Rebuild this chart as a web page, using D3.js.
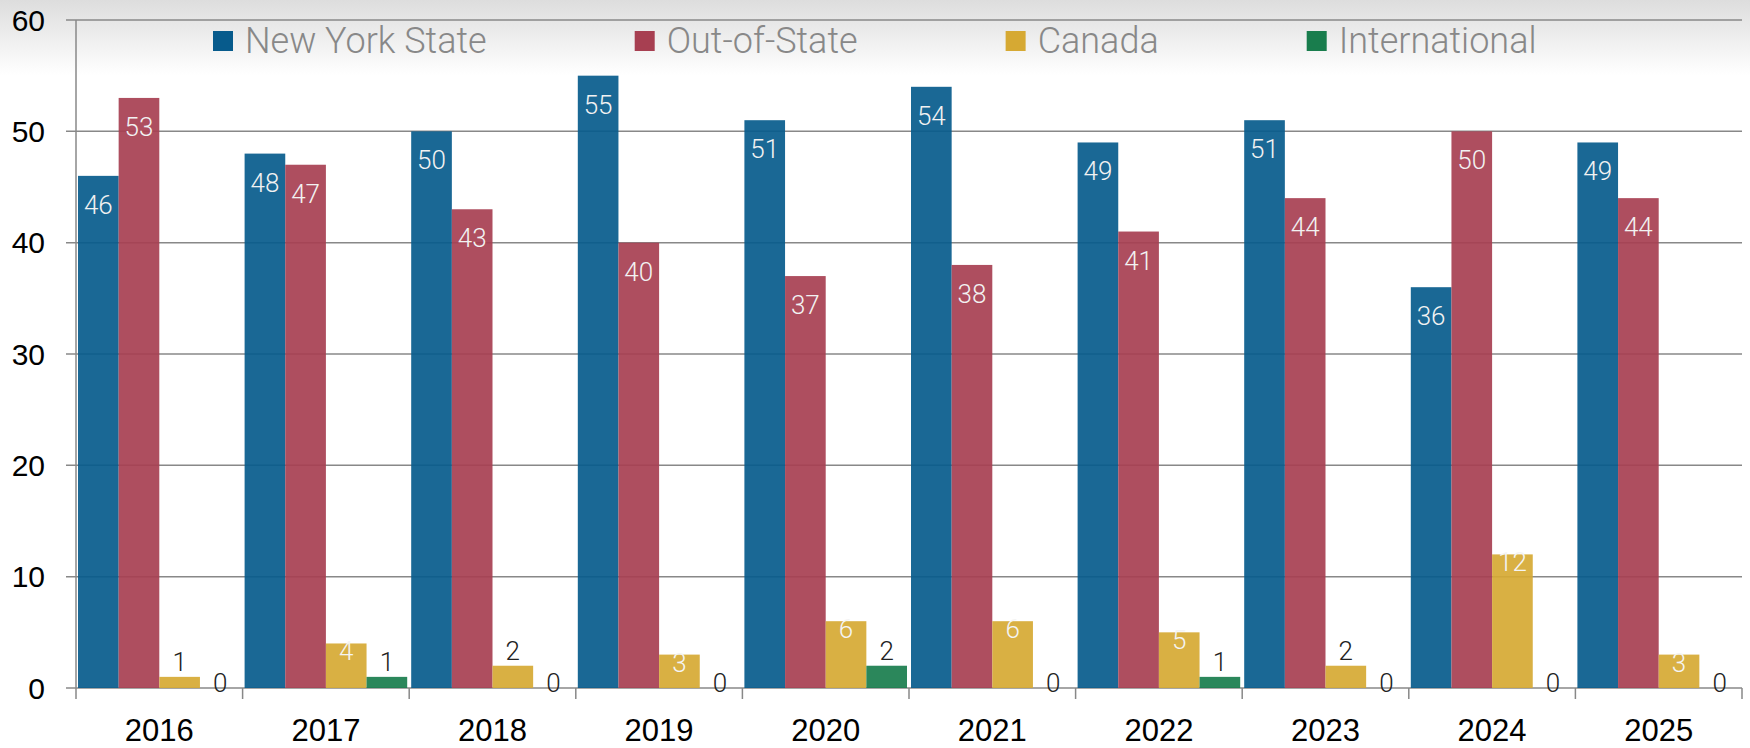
<!DOCTYPE html>
<html lang="en">
    <head>
        <meta charset="utf-8">
        <title>Students by origin, 2016-2025</title>
        <script src="https://d3js.org/d3.v7.min.js"></script>
        <style type="text/css">
          body { margin: 0; background: #fff; }
          svg { width: 1750px; height: 748px; display: block; }
          .axis-label { font-family: "Liberation Sans", Arial, sans-serif; fill: #000; }
          .legend { font-family: Roboto, "Liberation Sans", sans-serif; font-weight: 300; font-size: 36px; fill: #888; }
          .value { font-family: Roboto, "Liberation Sans", sans-serif; font-weight: 300; font-size: 26px; }
        </style>
    </head>
    <body>
        <svg></svg>

        <script type="text/javascript">

        // data
        const years = ["2016", "2017", "2018", "2019", "2020", "2021", "2022", "2023", "2024", "2025"];
        const seriesNames = ["New York State", "Out-of-State", "Canada", "International"];
        const newYork = [46, 48, 50, 55, 51, 54, 49, 51, 36, 49];
        const outOfState = [53, 47, 43, 40, 37, 38, 41, 44, 50, 44];
        const canada = [1, 4, 2, 3, 6, 6, 5, 2, 12, 3];
        const international = [0, 1, 0, 0, 2, 0, 1, 0, 0, 0];
        const yTicks = [0, 10, 20, 30, 40, 50, 60];

        const colors = ["#075b8c", "#a73f51", "#d6a933", "#197d4d"];
        const values = [newYork, outOfState, canada, international];

        const svg = d3.select("svg");

        // soft grey band at the top
        const grad = svg.append("defs").append("linearGradient")
            .attr("id", "topfade").attr("x1", 0).attr("y1", 0).attr("x2", 0).attr("y2", 1);
        grad.append("stop").attr("offset", "0%").attr("stop-color", "#dddddd");
        grad.append("stop").attr("offset", "100%").attr("stop-color", "#ffffff");
        svg.append("rect").attr("x", 0).attr("y", 0).attr("width", 1750).attr("height", 75)
            .attr("fill", "url(#topfade)");

        const plotLeft = 76, plotRight = 1742, plotTop = 20, plotBottom = 688;

        const x0 = d3.scaleBand().domain(years).range([plotLeft, plotRight]);
        const x1 = d3.scaleBand().domain(seriesNames).range([2, x0.bandwidth() - 2]);
        const y = d3.scaleLinear().domain([0, 60]).range([plotBottom, plotTop]);

        // gridlines + y labels
        const grid = svg.append("g");
        grid.selectAll("line")
            .data(yTicks)
            .enter()
            .append("line")
            .attr("x1", plotLeft - 10)
            .attr("x2", plotRight)
            .attr("y1", d => y(d))
            .attr("y2", d => y(d))
            .attr("stroke", "#888")
            .attr("stroke-width", 1.5);

        grid.selectAll("text")
            .data(yTicks)
            .enter()
            .append("text")
            .attr("class", "axis-label")
            .attr("x", 45)
            .attr("y", d => y(d))
            .attr("dy", "0.36em")
            .attr("text-anchor", "end")
            .attr("font-size", "30px")
            .text(d => d);

        // y axis line
        svg.append("line")
            .attr("x1", plotLeft).attr("x2", plotLeft)
            .attr("y1", plotTop).attr("y2", plotBottom)
            .attr("stroke", "#888").attr("stroke-width", 1.5);

        // x axis ticks at band edges
        const edges = years.map(d => x0(d)).concat([plotRight]);
        svg.append("g").selectAll("line")
            .data(edges)
            .enter()
            .append("line")
            .attr("x1", d => d).attr("x2", d => d)
            .attr("y1", plotBottom).attr("y2", plotBottom + 11)
            .attr("stroke", "#888").attr("stroke-width", 1.5);

        svg.append("g").selectAll("text")
            .data(years)
            .enter()
            .append("text")
            .attr("class", "axis-label")
            .attr("x", d => x0(d) + x0.bandwidth() / 2)
            .attr("y", 741)
            .attr("text-anchor", "middle")
            .attr("font-size", "31px")
            .text(d => d);

        // bars
        const rows = years.map((yr, i) => ({
            year: yr,
            items: seriesNames.map((s, j) => ({ series: s, idx: j, value: values[j][i] }))
        }));

        const groups = svg.append("g").selectAll("g")
            .data(rows)
            .enter()
            .append("g")
            .attr("transform", d => "translate(" + x0(d.year) + ",0)");

        groups.selectAll("rect")
            .data(d => d.items)
            .enter()
            .append("rect")
            .attr("x", d => x1(d.series))
            .attr("width", x1.bandwidth())
            .attr("y", d => y(d.value))
            .attr("height", d => plotBottom - y(d.value))
            .attr("fill", d => colors[d.idx])
            .attr("fill-opacity", 0.92);

        // value labels: white inside the tall bars, dark above the short ones
        function labelY(d) {
            if (d.value === 0) return plotBottom + 4;
            if (d.idx < 2) return y(d.value) + 38;
            if (d.idx === 2 && d.value >= 3) return y(d.value) + 17;
            return y(d.value) - 6;
        }
        function labelFill(d) {
            if (d.value === 0) return "#222";
            if (d.idx < 2) return "#f2f2f2";
            if (d.idx === 2 && d.value >= 3) return "#f4f4f4";
            return "#222";
        }

        groups.selectAll("text")
            .data(d => d.items)
            .enter()
            .append("text")
            .attr("class", "value")
            .attr("x", d => x1(d.series) + x1.bandwidth() / 2)
            .attr("y", labelY)
            .attr("text-anchor", "middle")
            .attr("fill", labelFill)
            .text(d => d.value);

        // legend
        const legend = svg.append("g");
        let lx = 213;
        seriesNames.forEach((name, j) => {
            legend.append("rect")
                .attr("x", lx).attr("y", 31)
                .attr("width", 20).attr("height", 20)
                .attr("fill", colors[j]);
            const t = legend.append("text")
                .attr("class", "legend")
                .attr("x", lx + 32)
                .attr("y", 53)
                .text(name);
            lx = lx + 32 + t.node().getComputedTextLength() + 148;
        });

        </script>
    </body>
</html>
